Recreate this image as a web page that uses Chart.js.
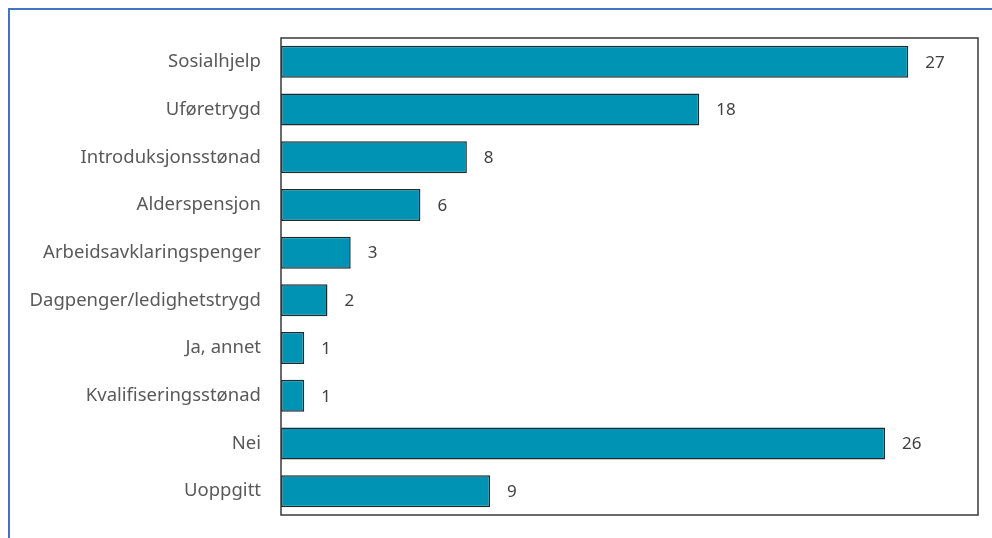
<!DOCTYPE html>
<html>
<head>
<meta charset="utf-8">
<script src="https://cdn.jsdelivr.net/npm/chart.js@4"></script>
<style>
  html, body { margin: 0; padding: 0; background: #fff; }
  #wrap { position: relative; width: 992px; height: 538px; }
  #frame { position: absolute; left: 8px; top: 8px; width: 1000px; height: 600px;
           border-top: 2px solid #4472C4; border-left: 2px solid #4472C4; }
  canvas { position: absolute; left: 0; top: 0; }
</style>
</head>
<body>
<div id="wrap">
  <div id="frame"></div>
  <canvas id="stotte" width="992" height="538"></canvas>
</div>
<script>
var kategorier = ['Sosialhjelp', 'Uføretrygd', 'Introduksjonsstønad', 'Alderspensjon',
    'Arbeidsavklaringspenger', 'Dagpenger/ledighetstrygd', 'Ja, annet',
    'Kvalifiseringsstønad', 'Nei', 'Uoppgitt'];
var antall = [27, 18, 8, 6, 3, 2, 1, 1, 26, 9];

// ramme rundt plottet
var boks = {
    id: 'boks',
    afterDraw: function (chart) {
        var a = chart.chartArea;
        var c = chart.ctx;
        c.save();
        c.strokeStyle = '#3a3a3a';
        c.lineWidth = 1.5;
        c.strokeRect(a.left, a.top, a.right - a.left, a.bottom - a.top);
        c.restore();
    }
};

// tall til høyre for stolpene
var verdier = {
    id: 'verdier',
    afterDatasetsDraw: function (chart) {
        var c = chart.ctx;
        var meta = chart.getDatasetMeta(0);
        c.save();
        c.font = '17px "Noto Sans", sans-serif';
        c.fillStyle = '#404040';
        c.textAlign = 'left';
        c.textBaseline = 'middle';
        meta.data.forEach(function (bar, i) {
            c.fillText(antall[i], bar.x + 17, bar.y + 1);
        });
        c.restore();
    }
};

var ctx = document.getElementById('stotte').getContext('2d');
var chart = new Chart(ctx, {
    type: 'bar',
    data: {
        labels: kategorier,
        datasets: [{
            label: 'antall',
            data: antall,
            backgroundColor: '#0093B4',
            borderColor: '#1f2a2e',
            borderWidth: 1.5,
            borderSkipped: false,
            categoryPercentage: 1,
            barPercentage: 0.67
        }]
    },
    options: {
        indexAxis: 'y',
        responsive: false,
        animation: false,
        devicePixelRatio: 1,
        layout: { padding: { top: 38, bottom: 23, right: 14, left: 0 } },
        scales: {
            x: {
                display: false,
                min: 0,
                max: 30
            },
            y: {
                grid: { display: false, drawTicks: false },
                border: { display: false },
                ticks: {
                    padding: 20,
                    color: '#595959',
                    font: { family: '"Noto Sans", sans-serif', size: 18.5 }
                },
                afterFit: function (scale) {
                    scale.width = 281;
                    scale.paddingTop = 0;
                    scale.paddingBottom = 0;
                }
            }
        },
        plugins: {
            legend: { display: false },
            tooltip: { enabled: false }
        }
    },
    plugins: [boks, verdier]
});
</script>
</body>
</html>
